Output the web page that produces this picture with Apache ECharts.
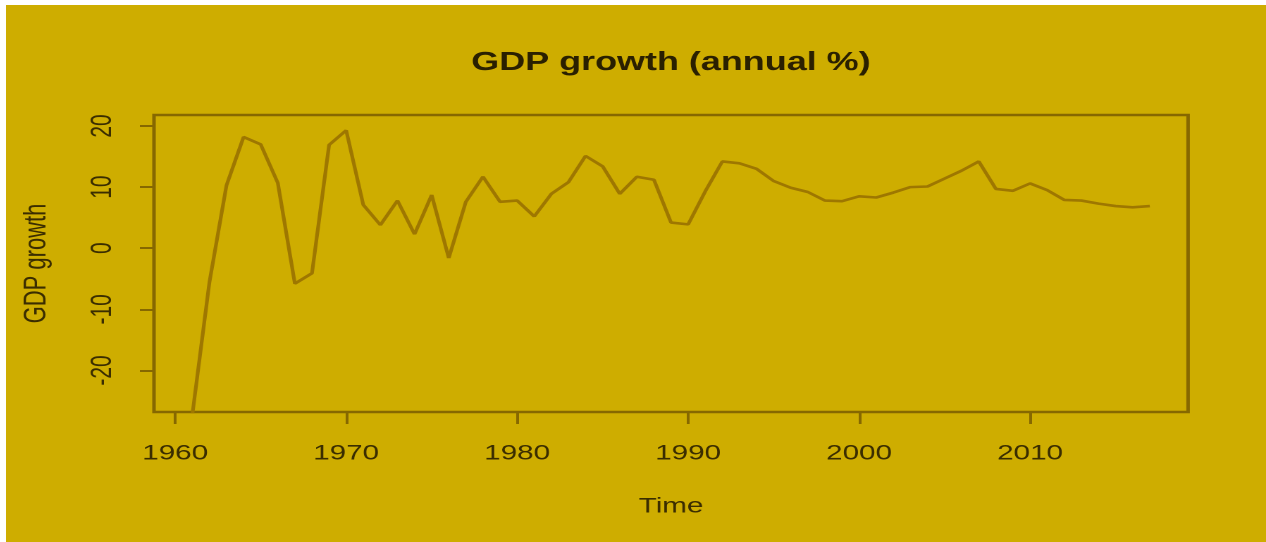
<!DOCTYPE html>
<html>
<head>
<meta charset="utf-8">
<script src="https://cdn.jsdelivr.net/npm/echarts@6/dist/echarts.min.js"></script>
<style>
html,body{margin:0;padding:0;background:#ffffff;overflow:hidden;width:1266px;height:542px;}
#chart{position:absolute;left:6px;top:5px;width:894px;height:537px;transform:scaleX(1.4094);transform-origin:0 0;}
</style>
</head>
<body>
<div id="chart"></div>
<script>
const years = [1961,1962,1963,1964,1965,1966,1967,1968,1969,1970,
  1971,1972,1973,1974,1975,1976,1977,1978,1979,1980,
  1981,1982,1983,1984,1985,1986,1987,1988,1989,1990,
  1991,1992,1993,1994,1995,1996,1997,1998,1999,2000,
  2001,2002,2003,2004,2005,2006,2007,2008,2009,2010,
  2011,2012,2013,2014,2015,2016,2017];
const gdpGrowth = [-27.3,-5.6,10.3,18.2,17.0,10.7,-5.8,-4.1,16.9,19.3,
  7.1,3.8,7.8,2.3,8.7,-1.6,7.6,11.7,7.6,7.8,
  5.2,8.9,10.8,15.1,13.4,8.9,11.7,11.2,4.2,3.9,
  9.3,14.2,13.9,13.0,11.0,9.9,9.2,7.8,7.7,8.5,
  8.3,9.1,10.0,10.1,11.4,12.7,14.2,9.7,9.4,10.6,
  9.5,7.9,7.8,7.3,6.9,6.7,6.9];
const xTicks = [1960,1970,1980,1990,2000,2010];
const yTicks = [-20,-10,0,10,20];
const titleText = 'GDP growth (annual %)';
const xName = 'Time';
const yName = 'GDP growth';

const chart = echarts.init(document.getElementById('chart'), null, {devicePixelRatio: 2});
const labelColor = '#3a2d00';
const boxColor = '#866800';
const fontFam = '"Liberation Sans", Arial, sans-serif';
chart.setOption({
  backgroundColor: '#CEAD00',
  animation: false,
  graphic: [{
    type: 'text', x: 471.8, y: 58, silent: true,
    style: {
      text: titleText, fill: '#2a2000',
      fontFamily: fontFam, fontWeight: 'bold', fontSize: 25.5,
      align: 'center', verticalAlign: 'middle'
    }
  }],
  grid: {
    left: 105, right: 55.3, top: 110, bottom: 130,
    show: true, borderColor: boxColor, borderWidth: 2.5, backgroundColor: 'transparent'
  },
  xAxis: {
    type: 'value', min: 1958.76, max: 2019.24,
    name: xName, nameLocation: 'middle', nameGap: 84,
    nameTextStyle: {color: labelColor, fontFamily: fontFam, fontSize: 21},
    axisLine: {show: false, onZero: false},
    splitLine: {show: false},
    axisTick: {show: true, customValues: xTicks, length: 12, lineStyle: {color: boxColor, width: 2}},
    axisLabel: {customValues: xTicks, margin: 31, color: labelColor,
      fontFamily: fontFam, fontSize: 21, formatter: v => String(v)}
  },
  yAxis: {
    type: 'value', min: -26.8, max: 21.8,
    name: yName, nameLocation: 'middle', nameGap: 72, nameRotate: 90,
    nameTextStyle: {color: labelColor, fontFamily: fontFam, fontSize: 22},
    axisLine: {show: false, onZero: false},
    splitLine: {show: false},
    axisTick: {show: true, customValues: yTicks, length: 10, lineStyle: {color: boxColor, width: 2}},
    axisLabel: {customValues: yTicks, margin: 26, rotate: 90, color: labelColor,
      fontFamily: fontFam, fontSize: 21, formatter: v => String(v)}
  },
  series: [{
    type: 'line',
    data: years.map((y, i) => [y, gdpGrowth[i]]),
    showSymbol: false,
    clip: true,
    lineStyle: {color: '#9E7700', width: 2.6},
    smooth: false
  }]
});
</script>
</body>
</html>
